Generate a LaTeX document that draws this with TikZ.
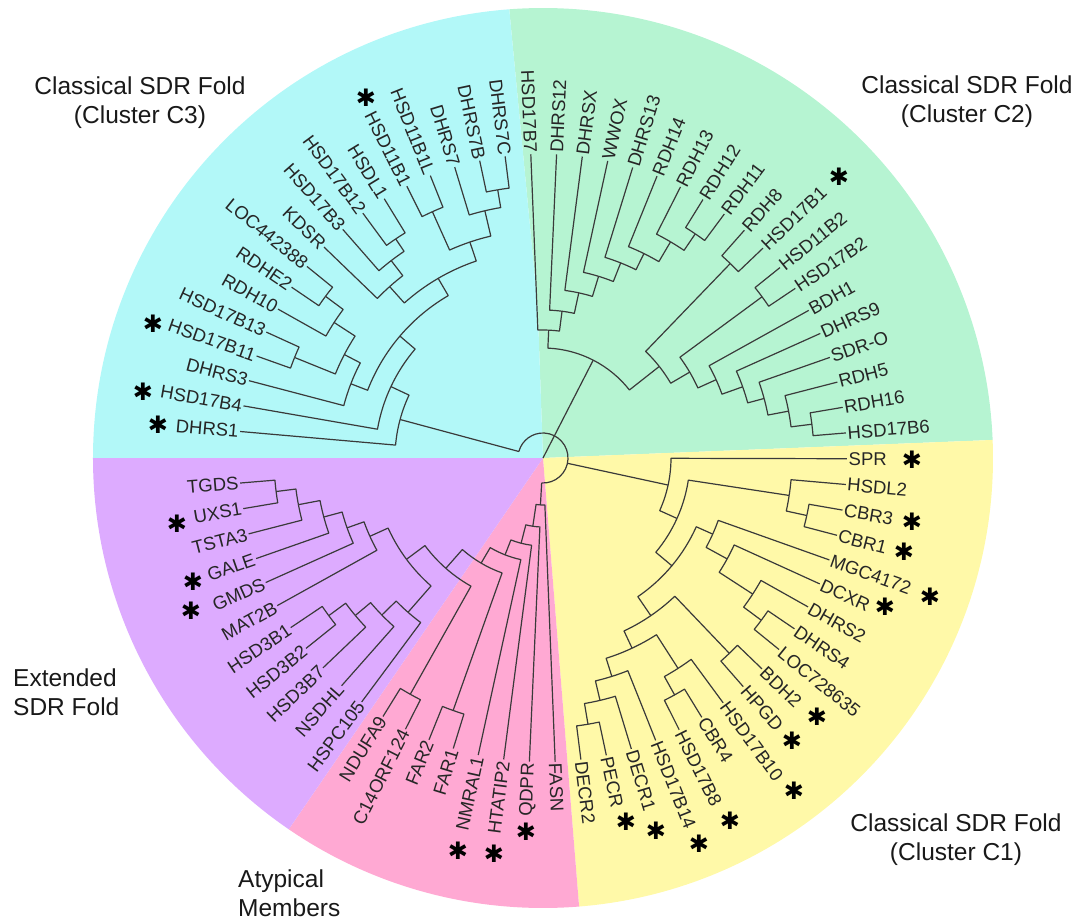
\documentclass[tikz,border=0pt]{standalone}
\usepackage{fontspec}
\setmainfont{Liberation Sans}
\newfontfamily\starfont{DejaVu Sans}
\definecolor{cyanbg}{HTML}{B2F8F8}
\definecolor{greenbg}{HTML}{B6F4D2}
\definecolor{yellowbg}{HTML}{FFF9A8}
\definecolor{pinkbg}{HTML}{FFA9D3}
\definecolor{purplebg}{HTML}{DDABFF}
\definecolor{treeline}{HTML}{3A3A3A}
\makeatletter
\newcommand{\setang}[2]{\expandafter\xdef\csname tang@#1\endcsname{#2}}
\newcommand{\getang}[1]{\csname tang@#1\endcsname}
\makeatother
\newcommand{\leaf}[3]{%
  \pgfmathsetmacro\leafang{92.3-4.865*#2}%
  \setang{#1}{\leafang}%
  \coordinate (#1) at (\leafang:304);%
  \pgfmathsetmacro\leafcos{cos(\leafang)}%
  \ifdim\leafcos pt<0pt
    \pgfmathsetmacro\leafrot{\leafang+180}%
    \node[leaflabel, anchor=east, rotate=\leafrot] (#1t) at (#1) {#3};%
  \else
    \node[leaflabel, anchor=west, rotate=\leafang] (#1t) at (#1) {#3};%
  \fi
}
\newcommand{\clade}[4]{%
  \edef\cla{\getang{#3}}\edef\clb{\getang{#4}}%
  \pgfmathsetmacro\clm{(\cla+\clb)/2}%
  \setang{#1}{\clm}%
  \coordinate (#1) at (\clm:#2);%
  \draw[branch] (#1) arc[start angle=\clm, end angle=\cla, radius=#2] -- (#3);%
  \draw[branch] (#1) arc[start angle=\clm, end angle=\clb, radius=#2] -- (#4);%
}
\newcommand{\astnode}[3]{\node[starmark] (#1) at ({#2-543},{458-#3}) {✱};}
\tikzset{
  branch/.style={draw=treeline, line width=1.2pt, line join=round},
  leaflabel/.style={font=\fontsize{18.5}{20}\selectfont, text=black!85, inner sep=1.5pt},
  starmark/.style={font=\starfont\fontsize{24}{24}\selectfont, inner sep=0pt, text=black},
  clustertitle/.style={font=\fontsize{24.5}{29}\selectfont, inner sep=0pt, text=black!90},
}
\begin{document}
\begin{tikzpicture}[x=1pt,y=1pt]
\useasboundingbox (-543,-464) rectangle (540,458);
% sectors
\fill[greenbg] (0,0) -- (-5.3,151) -- (94.3:450) arc[start angle=94.3, end angle=2.3, radius=450] -- cycle;
\fill[cyanbg] (0,0) -- (-5.3,151) -- (94.3:450) arc[start angle=94.3, end angle=180, radius=450] -- cycle;
\fill[yellowbg] (0,0) -- (2.3:450) arc[start angle=2.3, end angle=-85.4, radius=450] -- cycle;
\fill[pinkbg] (0,0) -- (-85.4:450) arc[start angle=-85.4, end angle=-124.4, radius=450] -- cycle;
\fill[purplebg] (0,0) -- (-124.4:450) arc[start angle=-124.4, end angle=-180, radius=450] -- cycle;
% leaves: green
\leaf{HSD17B7}{0}{HSD17B7}
\leaf{DHRS12}{1}{DHRS12}
\leaf{DHRSX}{2}{DHRSX}
\leaf{WWOX}{3}{WWOX}
\leaf{DHRS13}{4}{DHRS13}
\leaf{RDH14}{5}{RDH14}
\leaf{RDH13}{6}{RDH13}
\leaf{RDH12}{7}{RDH12}
\leaf{RDH11}{8}{RDH11}
\leaf{RDH8}{9}{RDH8}
\leaf{HSD17B1}{10}{HSD17B1}
\leaf{HSD11B2}{11}{HSD11B2}
\leaf{HSD17B2}{12}{HSD17B2}
\leaf{BDH1}{13}{BDH1}
\leaf{DHRS9}{14}{DHRS9}
\leaf{SDRO}{15}{SDR-O}
\leaf{RDH5}{16}{RDH5}
\leaf{RDH16}{17}{RDH16}
\leaf{HSD17B6}{18}{HSD17B6}
% yellow
\leaf{SPR}{19}{SPR}
\leaf{HSDL2}{20}{HSDL2}
\leaf{CBR3}{21}{CBR3}
\leaf{CBR1}{22}{CBR1}
\leaf{MGC4172}{23}{MGC4172}
\leaf{DCXR}{24}{DCXR}
\leaf{DHRS2}{25}{DHRS2}
\leaf{DHRS4}{26}{DHRS4}
\leaf{LOC728635}{27}{LOC728635}
\leaf{BDH2}{28}{BDH2}
\leaf{HPGD}{29}{HPGD}
\leaf{HSD17B10}{30}{HSD17B10}
\leaf{CBR4}{31}{CBR4}
\leaf{HSD17B8}{32}{HSD17B8}
\leaf{HSD17B14}{33}{HSD17B14}
\leaf{DECR1}{34}{DECR1}
\leaf{PECR}{35}{PECR}
\leaf{DECR2}{36}{DECR2}
% pink
\leaf{FASN}{37}{FASN}
\leaf{QDPR}{38}{QDPR}
\leaf{HTATIP2}{39}{HTATIP2}
\leaf{NMRAL1}{40}{NMRAL1}
\leaf{FAR1}{41}{FAR1}
\leaf{FAR2}{42}{FAR2}
\leaf{C14ORF124}{43}{C14ORF124}
\leaf{NDUFA9}{44}{NDUFA9}
% purple
\leaf{HSPC105}{45}{HSPC105}
\leaf{NSDHL}{46}{NSDHL}
\leaf{HSD3B7}{47}{HSD3B7}
\leaf{HSD3B2}{48}{HSD3B2}
\leaf{HSD3B1}{49}{HSD3B1}
\leaf{MAT2B}{50}{MAT2B}
\leaf{GMDS}{51}{GMDS}
\leaf{GALE}{52}{GALE}
\leaf{TSTA3}{53}{TSTA3}
\leaf{UXS1}{54}{UXS1}
\leaf{TGDS}{55}{TGDS}
% cyan
\leaf{DHRS1}{57}{DHRS1}
\leaf{HSD17B4}{58}{HSD17B4}
\leaf{DHRS3}{59}{DHRS3}
\leaf{HSD17B11}{60}{HSD17B11}
\leaf{HSD17B13}{61}{HSD17B13}
\leaf{RDH10}{62}{RDH10}
\leaf{RDHE2}{63}{RDHE2}
\leaf{LOC442388}{64}{LOC442388}
\leaf{KDSR}{65}{KDSR}
\leaf{HSD17B3}{66}{HSD17B3}
\leaf{HSD17B12}{67}{HSD17B12}
\leaf{HSDL1}{68}{HSDL1}
\leaf{HSD11B1}{69}{HSD11B1}
\leaf{HSD11B1L}{70}{HSD11B1L}
\leaf{DHRS7}{71}{DHRS7}
\leaf{DHRS7B}{72}{DHRS7B}
\leaf{DHRS7C}{73}{DHRS7C}
% green clades
\clade{gn1}{271}{RDH12}{RDH11}
\clade{gn2}{251}{RDH13}{gn1}
\clade{gn3}{228}{RDH14}{gn2}
\clade{gn4}{210}{DHRS13}{gn3}
\clade{gn5}{190}{WWOX}{gn4}
\clade{gn6}{169}{DHRSX}{gn5}
\clade{gn7}{148}{DHRS12}{gn6}
\clade{gn8}{128}{HSD17B7}{gn7}
\clade{gm1}{270}{RDH8}{HSD17B1}
\clade{gm2}{272}{HSD11B2}{HSD17B2}
\clade{gl1}{271}{RDH16}{HSD17B6}
\clade{gl2}{250}{RDH5}{gl1}
\clade{gl3}{229}{SDRO}{gl2}
\clade{gl4}{212}{DHRS9}{gl3}
\clade{gl5}{190}{BDH1}{gl4}
\clade{gl6}{170}{gm2}{gl5}
\clade{gl7}{148}{gm1}{gl6}
\clade{G}{110}{gn8}{gl7}
% yellow clades
\clade{ycb}{270}{CBR3}{CBR1}
\clade{yh1}{249}{HSDL2}{ycb}
\clade{y7}{272}{DHRS4}{LOC728635}
\clade{y6}{250}{DHRS2}{y7}
\clade{y5}{210}{DCXR}{y6}
\clade{y3}{186}{MGC4172}{y5}
\clade{y8}{270}{BDH2}{HPGD}
\clade{y11b}{271}{CBR4}{HSD17B8}
\clade{y11}{250}{HSD17B10}{y11b}
\clade{y15}{270}{PECR}{DECR2}
\clade{y14}{249}{DECR1}{y15}
\clade{y13}{229}{HSD17B14}{y14}
\clade{y12}{210}{y11}{y13}
\clade{y4}{191}{y8}{y12}
\clade{y2}{168}{y3}{y4}
\clade{y1}{147}{yh1}{y2}
\clade{Y0}{128}{SPR}{y1}
% purple and pink clades
\clade{pfar}{268}{FAR1}{FAR2}
\clade{pndu}{271}{C14ORF124}{NDUFA9}
\clade{u1}{269}{TGDS}{UXS1}
\clade{u2}{249}{TSTA3}{u1}
\clade{u3}{227}{GALE}{u2}
\clade{u4}{208}{GMDS}{u3}
\clade{u9}{190}{MAT2B}{u4}
\clade{u5}{266}{HSD3B2}{HSD3B1}
\clade{u6}{245}{HSD3B7}{u5}
\clade{u7}{225}{NSDHL}{u6}
\clade{u8}{205}{HSPC105}{u7}
\clade{pp}{170}{u8}{u9}
\clade{pa}{147}{pndu}{pp}
\clade{pb}{122}{pfar}{pa}
\clade{pc}{104}{NMRAL1}{pb}
\clade{pd}{88}{HTATIP2}{pc}
\clade{pe}{69}{QDPR}{pd}
\clade{Q}{47}{FASN}{pe}
% cyan clades
\clade{c1}{272}{DHRS7B}{DHRS7C}
\clade{c2}{254}{DHRS7}{c1}
\clade{c3}{270}{HSD11B1}{HSD11B1L}
\clade{c4}{228}{c3}{c2}
\clade{c6}{264}{HSD17B12}{HSDL1}
\clade{c10}{249}{HSD17B3}{c6}
\clade{c11}{230}{KDSR}{c10}
\clade{cT}{208}{c11}{c4}
\clade{c9}{271}{LOC442388}{RDHE2}
\clade{c13}{249}{RDH10}{c9}
\clade{c7}{268}{HSD17B11}{HSD17B13}
\clade{c8}{224}{c7}{c13}
\clade{c14}{206}{DHRS3}{c8}
\clade{cY}{188}{cT}{c14}
\clade{cX}{168}{cY}{HSD17B4}
\clade{Croot}{148}{cX}{DHRS1}
% root
\coordinate (root) at (0,0);
\edef\qang{\getang{Q}}
\pgfmathsetmacro\kang{\getang{Croot}+360}
\edef\yang{\getang{Y0}}
\coordinate (ringQ) at (\qang:25);
\coordinate (ringC) at (\kang:25);
\coordinate (ringY) at (\yang:25);
\draw[branch] (ringQ) arc[start angle=\qang, end angle=\kang, radius=25];
\draw[branch] (ringQ) -- (Q);
\draw[branch] (ringC) -- (Croot);
\draw[branch] (ringY) -- (Y0);
\draw[branch] (root) -- (G);
% stars
\astnode{sHSD11B1}{366}{98}
\astnode{sHSD17B1}{839}{177}
\astnode{sHSD17B11}{153}{324}
\astnode{sHSD17B4}{143}{392}
\astnode{sDHRS1}{158}{425}
\astnode{sUXS1}{177}{524}
\astnode{sGALE}{193}{582}
\astnode{sGMDS}{191}{611}
\astnode{sNMRAL1}{458}{851}
\astnode{sHTATIP2}{494}{854}
\astnode{sQDPR}{526}{832}
\astnode{sPECR}{626}{822}
\astnode{sDECR1}{656}{831}
\astnode{sHSD17B14}{699}{844}
\astnode{sHSD17B8}{730}{821}
\astnode{sHSD17B10}{794}{791}
\astnode{sHPGD}{792}{741}
\astnode{sBDH2}{817}{717}
\astnode{sDCXR}{885}{607}
\astnode{sMGC4172}{930}{597}
\astnode{sCBR1}{904}{552}
\astnode{sCBR3}{912}{522}
\astnode{sSPR}{912}{460}
% titles
\node[clustertitle, align=center, anchor=north] (tC3) at (-403,381.5) {Classical SDR Fold\\(Cluster C3)};
\node[clustertitle, align=center, anchor=north] (tC2) at (424,382.5) {Classical SDR Fold\\(Cluster C2)};
\node[clustertitle, align=center, anchor=north] (tC1) at (413,-355.5) {Classical SDR Fold\\(Cluster C1)};
\node[clustertitle, align=left, anchor=north west] (tExt) at (-530,-210.5) {Extended\\SDR Fold};
\node[clustertitle, align=left, anchor=north west] (tAty) at (-305,-412) {Atypical\\Members};
\end{tikzpicture}
\end{document}
